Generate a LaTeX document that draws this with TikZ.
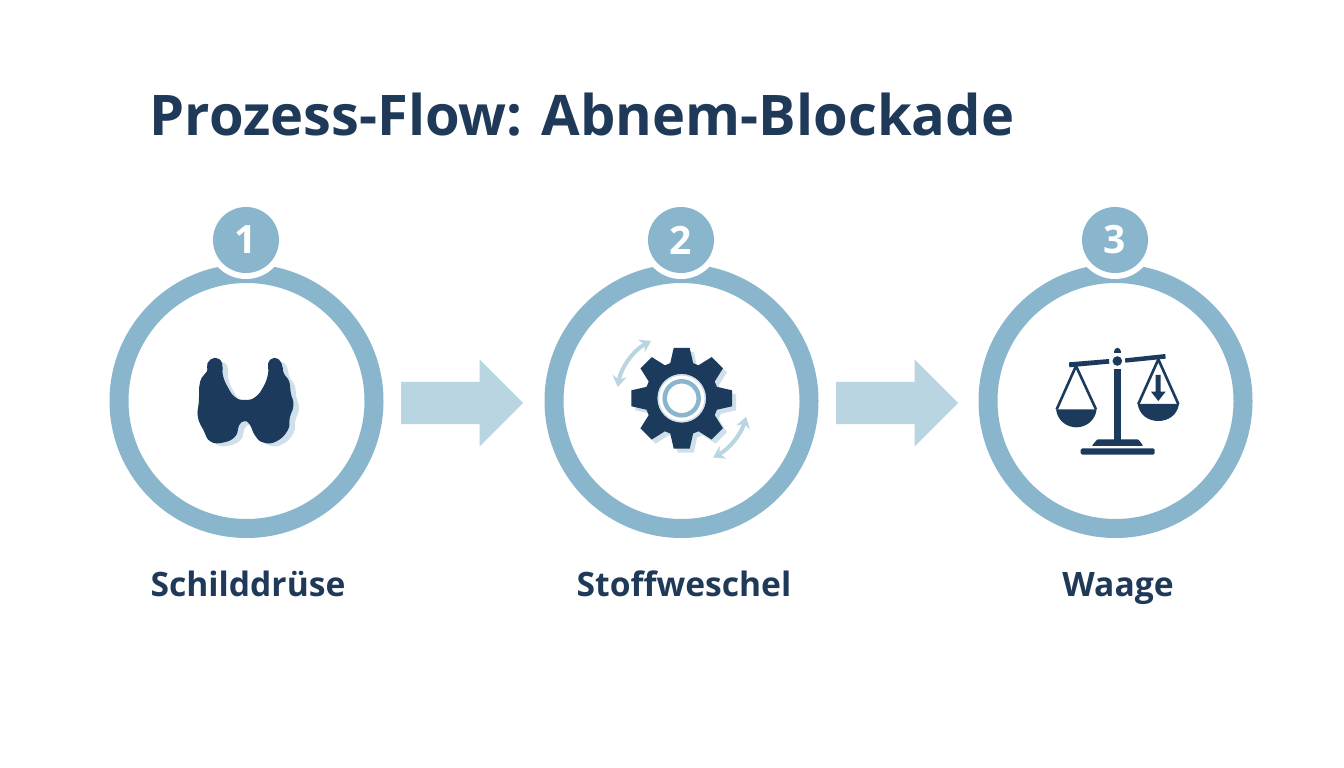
\documentclass[tikz,border=0pt]{standalone}
\usepackage{fontspec}
\setmainfont{Open Sans}
\usetikzlibrary{arrows.meta,shapes.arrows}
\definecolor{ringblue}{HTML}{8AB6CD}
\definecolor{paleblue}{HTML}{B9D5E2}
\definecolor{shadowblue}{HTML}{CFE0EA}
\definecolor{navy}{HTML}{1B3A5C}
\definecolor{inktext}{HTML}{1F3A59}
\tikzset{
  ringnode/.style={circle,draw=ringblue,line width=19pt,minimum size=255pt,inner sep=0pt,fill=white},
  halonode/.style={circle,fill=white,minimum size=78pt,inner sep=0pt},
  badgenode/.style={circle,fill=ringblue,minimum size=66pt,inner sep=0pt,text=white,font=\bfseries\fontsize{39}{39}\selectfont},
  flowarrow/.style={single arrow,fill=paleblue,minimum height=122pt,inner xsep=0pt,inner ysep=21pt,single arrow head extend=22.5pt,single arrow tip angle=90,anchor=tail},
  steplabel/.style={text=inktext,anchor=base,font=\bfseries\fontsize{33.6}{34}\selectfont},
  titlelabel/.style={text=inktext,font=\bfseries\fontsize{56}{56}\selectfont,anchor=base west},
  spin/.style={draw=paleblue,line width=4pt,{Stealth[length=11pt,width=14pt]}-{Stealth[length=11pt,width=14pt]}},
  zoomed/.style={x=0.3333pt,y=-0.3333pt},
}
\begin{document}
\begin{tikzpicture}[x=1pt,y=-1pt]
\useasboundingbox (0,0) rectangle (1344,768);
\fill[white] (0,0) rectangle (1344,768);
\node[titlelabel] (title) at (146,135) {Prozess-Flow: Abnem-Blockade};
% rings
\node[ringnode] (ring1) at (246.5,401) {};
\node[ringnode] (ring2) at (681.5,401) {};
\node[ringnode] (ring3) at (1115.5,401) {};
\node[halonode] (halo1) at (246,240) {};
\node[halonode] (halo2) at (681,240) {};
\node[halonode] (halo3) at (1115,240) {};
\node[badgenode] (badge1) at (246,240) {1};
\node[badgenode] (badge2) at (681,240) {2};
\node[badgenode] (badge3) at (1115,240) {3};
% flow arrows
\node[flowarrow] (flow1) at (401,403) {};
\node[flowarrow] (flow2) at (836,403) {};
% labels
\node[steplabel] (label1) at (248,596) {Schilddrüse};
\node[steplabel] (label2) at (684,596) {Stoffweschel};
\node[steplabel] (label3) at (1118,596) {Waage};
% thyroid
\begin{scope}[shift={(170,330)},zoomed]
\def\thyroid{plot[smooth cycle,tension=0.8] coordinates {(135,85) (155,100) (157,135) (172,172) (195,203) (225,211) (256,203) (282,170) (296,130) (296,100) (314,85) (333,100) (340,130) (356,155) (361,190) (369,225) (358,262) (352,300) (318,333) (280,336) (256,315) (240,282) (222,272) (205,287) (195,318) (160,336) (122,333) (102,300) (85,260) (88,215) (92,155) (112,125) (114,100)}}
\begin{scope}[shift={(6pt,-3.5pt)}]
\fill[shadowblue] \thyroid;
\end{scope}
\filldraw[navy,line width=1pt,line join=round] \thyroid;
\end{scope}
% gear
\begin{scope}[shift={(681.7,398.3)}]
\def\gearpath{(-18:37pt) \foreach \a in {0,45,...,315} { -- (\a-18:37pt) -- (\a-9:51pt) -- (\a+9:51pt) -- (\a+18:37pt)} -- cycle}
\fill[shadowblue,shift={(4pt,-4pt)}] \gearpath;
\fill[navy,line join=round] \gearpath;
\fill[white] (0,0) circle[radius=24pt];
\draw[shadowblue,line width=1.5pt] (0,0) circle[radius=23.5pt];
\draw[ringblue,line width=4.5pt] (0,0) circle[radius=17pt];
\draw[spin] (170:65pt) arc[start angle=170,end angle=118,radius=65pt];
\draw[spin] (-62:67pt) arc[start angle=-62,end angle=-16,radius=67pt];
\end{scope}
% scales
\begin{scope}[shift={(1040,330)},zoomed]
\fill[navy] (87,97) -- (207,87) -- (208,101) -- (88,112) -- cycle;
\fill[navy] (255,85) -- (376,72) -- (377,86) -- (256,98) -- cycle;
\fill[navy] (232,93) circle[radius=4.8pt];
\fill[navy] (221,70) .. controls (221,48) and (243,48) .. (243,70) -- cycle;
\fill[navy] (222,118) -- (242,118) -- (242,330) -- (222,330) -- cycle;
\fill[navy,rounded corners=1pt] (155,348) -- (310,348) -- (295,328) -- (172,328) -- cycle;
\fill[navy,rounded corners=1.5pt] (122,355) -- (344,355) -- (344,374) -- (122,374) -- cycle;
% left pan
\draw[navy,line width=2.6pt,line join=round] (50,238) -- (108,108) -- (168,238);
\fill[navy] (48,238) -- (170,238) .. controls (165,275) and (135,292) .. (109,292) .. controls (83,292) and (53,275) .. (48,238) -- cycle;
% right pan
\draw[navy,line width=2.6pt,line join=round] (295,222) -- (355,88) -- (415,222);
\fill[navy] (293,222) -- (417,222) .. controls (412,255) and (385,273) .. (355,273) .. controls (325,273) and (298,255) .. (293,222) -- cycle;
\fill[navy] (347,135) -- (362,135) -- (362,185) -- (377,185) -- (355,213) -- (333,185) -- (347,185) -- cycle;
\end{scope}
\end{tikzpicture}
\end{document}
